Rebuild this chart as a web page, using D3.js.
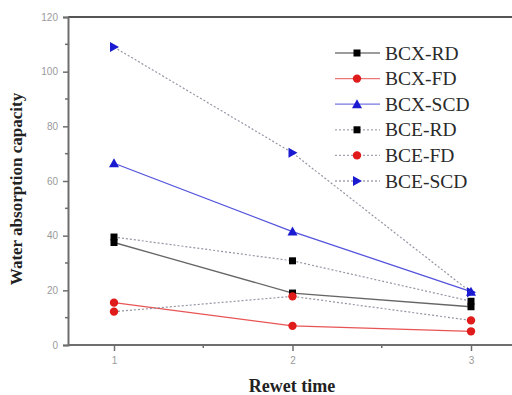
<!DOCTYPE html>
<html>
<head>
<meta charset="utf-8">
<script src="https://cdn.jsdelivr.net/npm/d3@7"></script>
<style>
  body { margin: 0; background: #fff; }
  .tick text { fill: #9a9a9a; font-family: "Liberation Sans", Arial, sans-serif; font-size: 10px; }
  .axis path, .axis line { stroke: #6e6e6e; }
</style>
</head>
<body>
<div id="chart"></div>
<script>
// rewet cycles and series
var times = [1, 2, 3]
var names = ['BCX-RD', 'BCX-FD', 'BCX-SCD', 'BCE-RD', 'BCE-FD', 'BCE-SCD']
var bcxRD  = [37.5, 19, 14]
var bcxFD  = [15.5, 7, 5]
var bcxSCD = [66.5, 41.5, 19.5]
var bceRD  = [39.5, 30.8, 16]
var bceFD  = [12.2, 17.8, 9]
var bceSCD = [109, 70.3, 19.3]
var yTicks = [0, 20, 40, 60, 80, 100, 120]
var xTicks = [1, 2, 3]

var series = [
  {name: names[0], values: bcxRD,  color: '#000000', shape: 'square', dotted: false},
  {name: names[1], values: bcxFD,  color: '#e01b1b', shape: 'circle', dotted: false},
  {name: names[2], values: bcxSCD, color: '#1a1ad0', shape: 'up',     dotted: false},
  {name: names[3], values: bceRD,  color: '#000000', shape: 'square', dotted: true},
  {name: names[4], values: bceFD,  color: '#e01b1b', shape: 'circle', dotted: true},
  {name: names[5], values: bceSCD, color: '#1a1ad0', shape: 'right',  dotted: true}
]

var W = 512, H = 395
var svg = d3.select('#chart').append('svg').attr('width', W).attr('height', H)

var x = d3.scaleLinear().domain([1, 3]).range([114, 471])
var y = d3.scaleLinear().domain([0, 120]).range([345, 17])
var left = 68, right = 512

// frame top line
svg.append('line')
  .attr('x1', left).attr('x2', right).attr('y1', y(120)).attr('y2', y(120))
  .attr('stroke', '#555').attr('stroke-width', 2)

// y axis
var yAxis = svg.append('g').attr('class', 'axis').attr('transform', 'translate(' + left + ',0)')
  .call(d3.axisLeft(y).tickValues(yTicks).tickSize(5).tickPadding(5))
yAxis.select('.domain').attr('stroke-width', 2)
yAxis.selectAll('.tick line').attr('stroke-width', 1.5)
yAxis.selectAll('.minor').data(d3.range(10, 120, 20)).enter().append('line')
  .attr('x1', 0).attr('x2', -3).attr('y1', y).attr('y2', y)
  .attr('stroke', '#6e6e6e').attr('stroke-width', 1.5)

// x axis
var xAxis = svg.append('g').attr('class', 'axis').attr('transform', 'translate(0,' + y(0) + ')')
  .call(d3.axisBottom(x).tickValues(xTicks).tickFormat(d3.format('d')).tickSize(6).tickPadding(6))
xAxis.select('.domain').remove()
xAxis.insert('line', ':first-child')
  .attr('x1', left).attr('x2', right).attr('y1', 0).attr('y2', 0)
  .attr('stroke', '#6e6e6e').attr('stroke-width', 2)
xAxis.selectAll('.tick line').attr('stroke-width', 1.5)
xAxis.selectAll('.minor').data([1.5, 2.5]).enter().append('line')
  .attr('x1', x).attr('x2', x).attr('y1', 0).attr('y2', 3)
  .attr('stroke', '#6e6e6e').attr('stroke-width', 1.5)

// axis titles
svg.append('text')
  .attr('transform', 'translate(22,' + 189 + ') rotate(-90)')
  .attr('text-anchor', 'middle')
  .attr('font-family', '"Liberation Serif", "Times New Roman", serif')
  .attr('font-weight', 'bold').attr('font-size', 17).attr('fill', '#222')
  .text('Water absorption capacity')
svg.append('text')
  .attr('x', 292).attr('y', 392)
  .attr('text-anchor', 'middle')
  .attr('font-family', '"Liberation Serif", "Times New Roman", serif')
  .attr('font-weight', 'bold').attr('font-size', 18).attr('fill', '#222')
  .text('Rewet time')

var line = d3.line().x(function(d, i){ return x(times[i]) }).y(function(d){ return y(d) })

function marker(g, s, cx, cy){
  if (s.shape == 'square'){
    g.append('rect').attr('x', cx - 3.5).attr('y', cy - 3.5).attr('width', 7).attr('height', 7).attr('fill', s.color)
  } else if (s.shape == 'circle'){
    g.append('circle').attr('cx', cx).attr('cy', cy).attr('r', 4.2).attr('fill', s.color)
  } else if (s.shape == 'up'){
    g.append('path').attr('d', 'M' + cx + ',' + (cy - 5) + 'L' + (cx + 5) + ',' + (cy + 4) + 'L' + (cx - 5) + ',' + (cy + 4) + 'Z').attr('fill', s.color)
  } else {
    g.append('path').attr('d', 'M' + (cx + 5) + ',' + cy + 'L' + (cx - 4) + ',' + (cy - 5) + 'L' + (cx - 4) + ',' + (cy + 5) + 'Z').attr('fill', s.color)
  }
}

series.forEach(function(s){
  var g = svg.append('g')
  g.append('path').attr('d', line(s.values))
    .attr('fill', 'none')
    .attr('stroke', s.dotted ? '#8a8a9a' : (s.color == '#000000' ? '#333' : s.color))
    .attr('stroke-opacity', s.dotted ? 0.9 : 0.75)
    .attr('stroke-width', s.dotted ? 1.2 : 1.3)
    .attr('stroke-dasharray', s.dotted ? '2,2' : null)
  s.values.forEach(function(v, i){ marker(g, s, x(times[i]), y(v)) })
})

// legend
var lg = svg.append('g')
series.forEach(function(s, i){
  var ly = 53 + i * 25.6
  var g = lg.append('g')
  g.append('line').attr('x1', 335).attr('x2', 380).attr('y1', ly).attr('y2', ly)
    .attr('stroke', s.dotted ? '#9a9aaa' : (s.color == '#000000' ? '#222' : s.color))
    .attr('stroke-opacity', s.dotted ? 0.9 : 0.6)
    .attr('stroke-width', 1.3)
    .attr('stroke-dasharray', s.dotted ? '2,2' : null)
  marker(g, s, 357, ly)
  g.append('text').attr('x', 385).attr('y', ly + 6.5)
    .attr('font-family', '"Liberation Serif", "Times New Roman", serif')
    .attr('font-size', 19.5).attr('fill', '#2a2a2a')
    .text(s.name)
})
</script>
</body>
</html>
